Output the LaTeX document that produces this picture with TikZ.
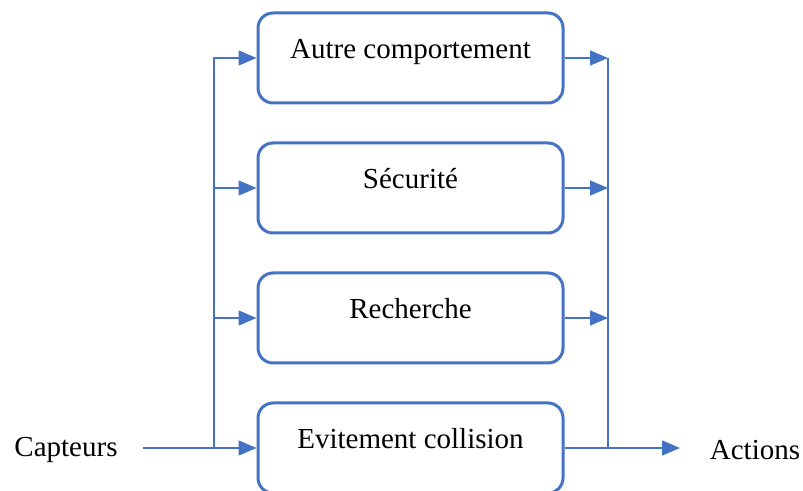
\documentclass[tikz,border=0pt]{standalone}
\usepackage{fontspec}
\setmainfont{Liberation Serif}
\usetikzlibrary{arrows.meta,positioning}
\definecolor{officeblue}{HTML}{4472C4}

\begin{document}
\begin{tikzpicture}[
    x=0.5pt,
    y=-0.5pt,
    behav/.style={
        draw=officeblue,
        line width=1.5pt,
        rounded corners=7.5pt,
        align=center,
        minimum width=152.5pt,
        minimum height=45pt,
        text height=10pt,
        text depth=9pt,
        font=\fontsize{14.5pt}{17pt}\selectfont
    },
    side/.style={
        inner sep=0pt,
        font=\fontsize{14.5pt}{17pt}\selectfont
    },
    link/.style={
        draw=officeblue,
        line width=0.7pt
    },
    arrow/.style={
        link,
        -{Triangle[length=9pt,width=7.5pt]}
    }
]
\useasboundingbox (0,0) rectangle (803,491);

% Behaviour blocks
\node[behav] (auto) at (410.5,58) {Autre comportement};
\node[behav] (secu) at (410.5,188) {Sécurité};
\node[behav] (rech) at (410.5,318) {Recherche};
\node[behav] (evit) at (410.5,448) {Evitement collision};

% Inputs and outputs
\node[side] (capteurs) at (66,450) {Capteurs};
\node[side] (actions) at (755,450) {Actions};

\coordinate (cin) at (143,448);
\coordinate (split) at (214,448);
\coordinate (merge) at (608,448);
\coordinate (cout) at (680,448);

% Connections
\draw[arrow] (cin) -- (evit.west);
\foreach \b in {auto,secu,rech}
    \draw[arrow] (split) |- (\b.west);

\foreach \b in {auto,secu,rech}
    \draw[arrow] (\b.east) -- (\b.east -| merge);
\draw[link] (merge) -- (merge |- auto.east);
\draw[arrow] (evit.east) -- (cout);

\end{tikzpicture}
\end{document}
